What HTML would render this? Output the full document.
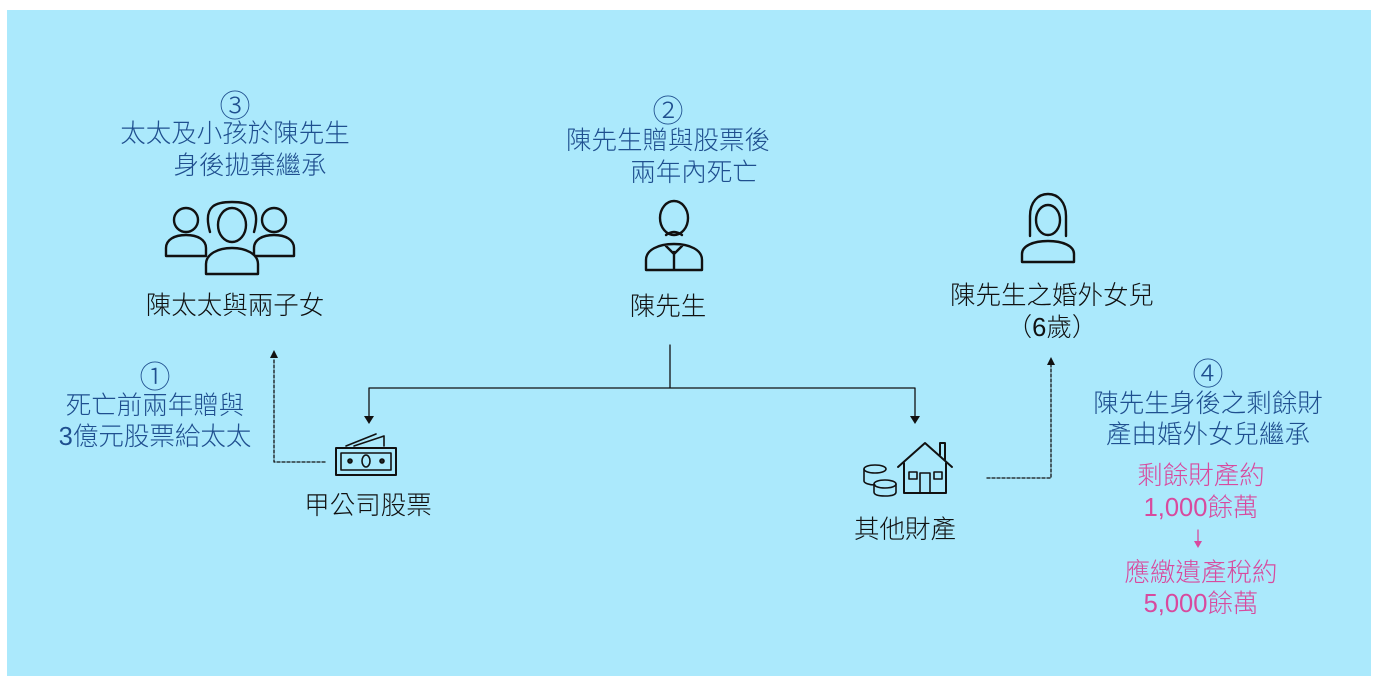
<!DOCTYPE html>
<html><head><meta charset="utf-8"><style>
body{margin:0;width:1380px;height:686px;background:#fff;position:relative;overflow:hidden;font-family:"Liberation Sans","Noto Sans CJK TC",sans-serif;}
#bg{position:absolute;left:7px;top:10px;width:1364px;height:666px;background:#abe9fc;}
.t{position:absolute;white-space:nowrap;transform:translateX(-50%);font-size:25.5px;line-height:32px;text-align:center;font-weight:300;}
.c{font-size:31px;font-family:"Noto Sans CJK TC",sans-serif;}
.b{color:#1f4f8f}.k{color:#111}.p{color:#d84a9e}
svg{position:absolute;left:0;top:0}
</style></head><body>
<div id="bg"></div>
<svg width="1380" height="686" fill="none" stroke="#111" stroke-width="2.4" stroke-linecap="round" stroke-linejoin="round">
<g stroke-width="1.3">
<path d="M670 345V388M369 388H915M369 388V417M915 388V417"/>
<path d="M325 462H274V358M987 478H1051V365" stroke-dasharray="3,2"/>
</g>
<g fill="#111" stroke="none">
<path d="M364 416h10l-5 8z"/><path d="M910 416h10l-5 8z"/>
<path d="M270 358h8l-4-8z"/><path d="M1047 365h8l-4-8z"/>
<path d="M1194 541h8l-4 7z" fill="#d84a9e"/>
</g>
<path d="M1198 530V542" stroke="#d84a9e" stroke-width="1.3"/>
<circle cx="186" cy="220" r="12"/><path d="M166 256v-8c0-8 8-13 20-13s20 5 20 13v8z"/>
<circle cx="274" cy="220" r="12"/><path d="M254 256v-8c0-8 8-13 20-13s20 5 20 13v8z"/>
<path d="M210 232c-8-28 8-30 22-30s30 2 22 30" fill="#abe9fc"/>
<ellipse cx="232" cy="225" rx="14" ry="17" fill="#abe9fc"/>
<path d="M206 274v-10c0-10 12-16 26-16s26 6 26 16v10z" fill="#abe9fc"/>
<ellipse cx="674" cy="218" rx="14" ry="17"/>
<path d="M666 235q8-6 16 0"/>
<path d="M646 270v-10c0-10 12-16 28-16s28 6 28 16v10zM674 252v18M666 246l8 8 8-8"/>
<path d="M1030 236v-20c0-14 8-22 18-22s18 8 18 22v20"/>
<ellipse cx="1048" cy="220" rx="12" ry="15"/>
<path d="M1022 262v-8c0-8 11-13 26-13s26 5 26 13v8z"/>
<rect x="336" y="448" width="60" height="27" stroke-width="2"/><rect x="341" y="453" width="50" height="17" stroke-width="1.6"/>
<ellipse cx="366" cy="461" rx="4" ry="6" stroke-width="1.6"/><circle cx="350" cy="461" r="1.6"/><circle cx="382" cy="461" r="1.6"/>
<path d="M346 446l30-12M354 446l30-10M384 436v10" stroke-width="1.6"/>
<g stroke-width="1.6"><ellipse cx="875" cy="469" rx="11" ry="4"/><path d="M864 469v12c0 2 5 4 11 4"/><ellipse cx="885" cy="484" rx="11" ry="4"/><path d="M874 484v8c0 3 5 4 11 4s11-1 11-4v-8"/></g>
<path d="M898 467l27-24 27 24M904 463v30h42v-30M940 455v-12h5v17" stroke-width="2"/>
<rect x="909" y="472" width="8" height="7" stroke-width="1.6"/><rect x="934" y="472" width="8" height="7" stroke-width="1.6"/><path d="M920 493v-20h10v20" stroke-width="1.6"/>
</svg>
<div class="t b c" style="left:235px;top:88px">③</div>
<div class="t b" style="left:235px;top:118px">太太及小孩於陳先生</div>
<div class="t b" style="left:250px;top:150px">身後拋棄繼承</div>
<div class="t b c" style="left:668px;top:93px">②</div>
<div class="t b" style="left:668px;top:125px">陳先生贈與股票後</div>
<div class="t b" style="left:694px;top:157px">兩年內死亡</div>
<div class="t k" style="left:235px;top:290px">陳太太與兩子女</div>
<div class="t k" style="left:668px;top:291px">陳先生</div>
<div class="t k" style="left:1052px;top:280px">陳先生之婚外女兒</div>
<div class="t k" style="left:1052px;top:312px">（6歲）</div>
<div class="t b c" style="left:155px;top:359px">①</div>
<div class="t b" style="left:155px;top:390px">死亡前兩年贈與</div>
<div class="t b" style="left:155px;top:421px">3億元股票給太太</div>
<div class="t k" style="left:368px;top:490px">甲公司股票</div>
<div class="t k" style="left:905px;top:514px">其他財產</div>
<div class="t b c" style="left:1208px;top:356px">④</div>
<div class="t b" style="left:1208px;top:388px">陳先生身後之剩餘財</div>
<div class="t b" style="left:1208px;top:419px">產由婚外女兒繼承</div>
<div class="t p" style="left:1201px;top:460px">剩餘財產約</div>
<div class="t p" style="left:1201px;top:492px">1,000餘萬</div>
<div class="t p" style="left:1201px;top:557px">應繳遺產稅約</div>
<div class="t p" style="left:1201px;top:588px">5,000餘萬</div>
</body></html>
